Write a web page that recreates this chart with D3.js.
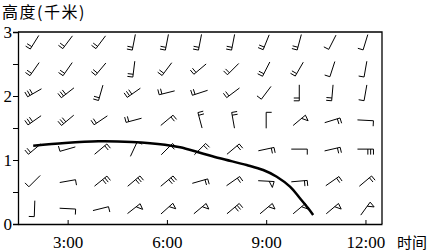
<!DOCTYPE html>
<html>
<head>
<meta charset="utf-8">
<script src="https://cdn.jsdelivr.net/npm/d3@7"></script>
<style>
  body { margin: 0; background: #fff; }
  .num { font-family: "Liberation Serif", "Times New Roman", serif; font-size: 17px; }
  .cjk { font-family: "Noto Sans CJK SC", sans-serif; font-size: 15px; }
</style>
</head>
<body>
<script>
// time of day (hours) for each column of wind barbs
var hours = [2, 3, 4, 5, 6, 7, 8, 9, 10, 11, 12];
// height (km) of each barb row, top to bottom
var heights = [2.84, 2.42, 2.05, 1.62, 1.17, 0.67, 0.24];

// staff direction (deg, screen: 0 = right, 90 = down) toward the feathered end
var windDir = [
  [122, 127, 127, 101, 101, 101, 101, 112, 105, 117, 107],
  [125, 125, 130, 97, 127, 140, 135, 117, 120, 108, 100],
  [150, 142, 106, 145, 166, 162, 143, 127, 90, 95, 100],
  [145, 140, 146, 165, -40, -105, -100, -90, -40, -17, 3],
  [140, 164, -40, -65, -45, -45, -40, -12, 0, -13, 0],
  [135, -10, -39, -40, -40, -16, -35, 3, -5, -35, -40],
  [92, 3, -14, -38, -42, -40, -40, -40, -40, -40, -54]
];
// feathers per barb
var windFeathers = [
  [2, 2, 2, 2, 2, 2, 2, 2, 2, 1, 1],
  [2, 2, 2, 2, 2, 2, 2, 2, 2, 1, 1],
  [3, 3, 2, 3, 2, 2, 2, 1, 2, 2, 1],
  [3, 3, 2, 2, 2, 2, 2, 1, 0, 2, 1],
  [2, 1, 2, 1, 2, 2, 2, 2, 1, 2, 3],
  [1, 1, 3, 3, 3, 2, 2, 0, 2, 2, 2],
  [1, 1, 1, 0, 0, 0, 3, 0, 0, 0, 0]
];
// pennants (triangles) per barb
var windPennants = [
  [0, 0, 0, 0, 0, 0, 0, 0, 0, 0, 0],
  [0, 0, 0, 0, 0, 0, 0, 0, 0, 0, 0],
  [0, 0, 0, 0, 0, 0, 0, 0, 0, 0, 0],
  [0, 0, 0, 0, 0, 0, 0, 0, 1, 0, 0],
  [0, 0, 0, 0, 0, 0, 0, 0, 0, 0, 0],
  [0, 0, 0, 0, 0, 0, 0, 1, 0, 0, 0],
  [0, 0, 0, 1, 1, 1, 0, 1, 1, 1, 1]
];

// the thick curve
var curveHour   = [1.96, 2.92, 3.93, 4.94, 5.94, 6.40, 7.0, 7.6, 8.41, 8.91, 9.32, 9.72, 10.02, 10.27, 10.42];
var curveHeight = [1.223, 1.266, 1.292, 1.281, 1.239, 1.198, 1.114, 1.027, 0.922, 0.844, 0.739, 0.583, 0.402, 0.245, 0.14];

var xTicks = [3, 6, 9, 12];
var xTickLabels = ["3:00", "6:00", "9:00", "12:00"];

var width = 431, height = 252;
var margin = {top: 32, right: 49, bottom: 28, left: 18};

var svg = d3.select("body").append("svg")
    .attr("width", width)
    .attr("height", height);

var x = d3.scaleLinear().domain([1.5, 12.5]).range([margin.left, width - margin.right]);
var y = d3.scaleLinear().domain([0, 3]).range([height - margin.bottom, margin.top]);

// frame (top and right)
svg.append("path")
    .attr("d", "M" + x(1.5) + "," + y(3) + "H" + x(12.5) + "V" + y(0))
    .attr("fill", "none")
    .attr("stroke", "#000")
    .attr("stroke-width", 1.3);

// y axis
var yAxis = d3.axisLeft(y)
    .tickValues(d3.range(0, 3.01, 0.5))
    .tickSize(5)
    .tickPadding(1)
    .tickFormat(function(d) { return Number.isInteger(d) ? d : ""; });
var gy = svg.append("g")
    .attr("transform", "translate(" + x(1.5) + ",0)")
    .call(yAxis);
gy.select(".domain").attr("stroke-width", 1.3);
gy.selectAll("text").attr("class", "num").attr("font-size", null).attr("font-family", null);

// x axis
var xAxis = d3.axisBottom(x)
    .tickValues(xTicks)
    .tickSizeInner(-4)
    .tickSizeOuter(0)
    .tickPadding(12)
    .tickFormat(function(d, i) { return xTickLabels[i]; });
var gx = svg.append("g")
    .attr("transform", "translate(0," + y(0) + ")")
    .call(xAxis);
gx.select(".domain").attr("stroke-width", 1.3);
gx.selectAll("text").attr("class", "num").attr("font-size", null).attr("font-family", null);

// axis titles
svg.append("text").attr("class", "cjk")
    .attr("x", 2).attr("y", 18)
    .style("font-size", "16px")
    .style("letter-spacing", "1.5px")
    .text("高度(千米)");
svg.append("text").attr("class", "cjk")
    .attr("x", 397).attr("y", 248)
    .text("时间");

// wind barbs
var barbs = [];
heights.forEach(function(h, i) {
  hours.forEach(function(t, j) {
    barbs.push({t: t, h: h, a: windDir[i][j], f: windFeathers[i][j], p: windPennants[i][j]});
  });
});

var staffLen = 16, featherLen = 5.5, featherGap = 2.8;

function barbPath(b) {
  var cx = x(b.t), cy = y(b.h);
  var r = b.a * Math.PI / 180;
  var dx = Math.cos(r), dy = Math.sin(r);
  var fx = -dy, fy = dx;
  var sx = cx - dx * staffLen / 2, sy = cy - dy * staffLen / 2;
  var tx = cx + dx * staffLen / 2, ty = cy + dy * staffLen / 2;
  var p = d3.path();
  p.moveTo(sx, sy);
  p.lineTo(tx, ty);
  var off = 0;
  for (var k = 0; k < b.p; k++) {
    var bx = tx - dx * off, by = ty - dy * off;
    p.moveTo(bx, by);
    p.lineTo(bx - dx * 1.5 + fx * 6, by - dy * 1.5 + fy * 6);
    p.lineTo(bx - dx * 5, by - dy * 5);
    off += 6;
  }
  for (var k = 0; k < b.f; k++) {
    var bx = tx - dx * off, by = ty - dy * off;
    p.moveTo(bx, by);
    p.lineTo(bx + fx * featherLen, by + fy * featherLen);
    off += featherGap;
  }
  return p.toString();
}

svg.append("g")
  .selectAll("path")
  .data(barbs)
  .enter()
  .append("path")
    .attr("d", barbPath)
    .attr("fill", "none")
    .attr("stroke", "#000")
    .attr("stroke-width", 1);

// thick curve
var line = d3.line()
    .x(function(d) { return x(d[0]); })
    .y(function(d) { return y(d[1]); })
    .curve(d3.curveCatmullRom);

svg.append("path")
    .datum(d3.zip(curveHour, curveHeight))
    .attr("d", line)
    .attr("fill", "none")
    .attr("stroke", "#000")
    .attr("stroke-width", 2.5);
</script>
</body>
</html>
